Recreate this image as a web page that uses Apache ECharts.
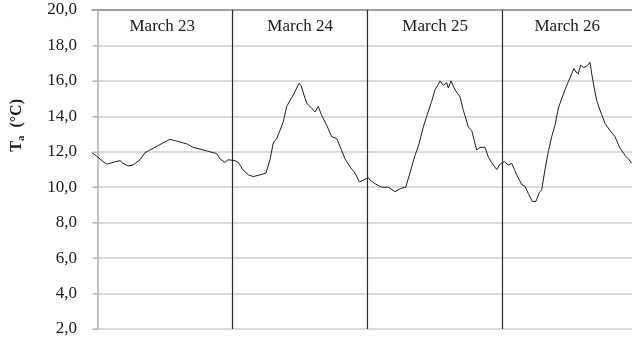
<!DOCTYPE html>
<html>
<head>
<meta charset="utf-8">
<script src="https://cdn.jsdelivr.net/npm/echarts@6/dist/echarts.min.js"></script>
<style>
  html, body { margin: 0; padding: 0; background: #fff; }
  #chart { width: 632px; height: 339px; }
</style>
</head>
<body>
<div id="chart"></div>
<script>
// Air temperature, hours counted from midnight of March 23
const hours = [
  -1.0, -0.16, 0.96, 1.61, 2.73, 3.98, 4.51, 5.4, 6.29, 7.53, 8.42, 9.31, 10.5, 11.62,
  12.87, 14.06, 15.84, 16.96, 18.2, 19.39, 21.17, 21.76, 22.64, 23.18, 23.53, 24.42,
  25.01, 25.9, 26.79, 27.68, 28.87, 29.93, 30.64, 31.23, 31.84, 32.42, 33.01, 33.61,
  34.2, 34.79, 35.39, 35.8, 36.16, 36.69, 37.17, 38.06, 38.64, 39.23, 39.84, 40.72,
  41.61, 42.5, 43.09, 43.98, 44.87, 45.76, 46.52, 47.23, 48.12,
  48.42, 49.31, 50.5, 51.68, 52.87, 54.06, 54.77, 55.53, 56.42, 57.01, 57.9, 58.5,
  59.39, 59.98, 60.46, 60.87, 61.45, 62.06, 62.34, 62.82, 63.53, 64.42, 65.01, 65.9,
  66.5, 67.39, 67.98, 68.87, 69.45, 70.34, 70.95, 71.53, 72.3,
  73.01, 73.61, 74.5, 75.39, 75.98, 76.56, 77.28, 77.93, 78.52, 78.95, 79.53, 80.12,
  80.72, 81.31, 81.9, 82.5, 83.09, 83.68, 84.28, 84.69, 85.04, 85.45, 85.88, 86.34,
  87.05, 87.53, 87.84, 88.25, 88.72, 89.31, 90.2, 91.09, 91.98, 92.87, 93.76, 94.35, 94.95
];
const temps = [
  11.95, 11.75, 11.45, 11.3, 11.4, 11.5, 11.35, 11.2, 11.25, 11.55, 11.95, 12.1, 12.3, 12.5,
  12.7, 12.6, 12.45, 12.25, 12.15, 12.05, 11.9, 11.6, 11.4, 11.55, 11.55, 11.5,
  11.4, 10.95, 10.7, 10.6, 10.7, 10.8, 11.55, 12.5, 12.75, 13.2, 13.7, 14.55,
  14.9, 15.2, 15.6, 15.85, 15.75, 15.2, 14.75, 14.45, 14.25, 14.55, 14.05, 13.5,
  12.85, 12.75, 12.3, 11.6, 11.15, 10.8, 10.3, 10.4, 10.55,
  10.4, 10.2, 10.0, 10.0, 9.75, 9.95, 10.0, 10.8, 11.8, 12.3, 13.4, 14.0,
  14.85, 15.5, 15.75, 16.0, 15.75, 15.9, 15.6, 16.0, 15.5, 15.1, 14.35, 13.4,
  13.2, 12.1, 12.25, 12.25, 11.7, 11.25, 11.0, 11.3, 11.45,
  11.25, 11.35, 10.7, 10.15, 10.05, 9.65, 9.2, 9.2, 9.7, 9.85, 11.0, 12.0,
  12.85, 13.5, 14.45, 15.0, 15.5, 15.95, 16.4, 16.7, 16.5, 16.4, 16.9, 16.75,
  16.85, 17.05, 16.4, 15.65, 14.9, 14.35, 13.6, 13.2, 12.85, 12.2, 11.8, 11.6, 11.35
];
const days = ['March 23', 'March 24', 'March 25', 'March 26'];
const midnights = [24, 48, 72];
const yTicks = { min: 2, max: 20, step: 2 };
const timeRange = { min: -1, max: 95 };

const serif = 'Liberation Serif, Times New Roman, serif';
const bounds = [timeRange.min].concat(midnights, [timeRange.max]);

const chart = echarts.init(document.getElementById('chart'), null, { renderer: 'canvas' });
chart.setOption({
  animation: false,
  backgroundColor: '#ffffff',
  grid: { left: 92, right: 0, top: 10, bottom: 10 },
  xAxis: {
    type: 'value',
    position: 'top',
    min: timeRange.min,
    max: timeRange.max,
    axisLine: { show: true, lineStyle: { color: '#8c8c8c', width: 1.5 } },
    axisTick: { show: false },
    axisLabel: { show: false },
    splitLine: { show: false }
  },
  yAxis: {
    type: 'value',
    min: yTicks.min,
    max: yTicks.max,
    interval: yTicks.step,
    axisLine: { show: true, lineStyle: { color: '#b0b0b0', width: 1.5 } },
    axisTick: { show: true, inside: false, length: 4, lineStyle: { color: '#b0b0b0' } },
    axisLabel: {
      margin: 15,
      color: '#1a1a1a',
      fontFamily: serif,
      fontSize: 17,
      formatter: v => v.toFixed(1).replace('.', ',')
    },
    splitLine: { show: true, lineStyle: { color: '#cfcfcf', width: 1.5 } }
  },
  graphic: [{
    type: 'text',
    left: 9,
    top: 99,
    rotation: Math.PI / 2,
    style: {
      text: '{t|T}{s|a}{t|  (°C)}',
      rich: {
        t: { fontFamily: serif, fontSize: 16, fontWeight: 'bold', fill: '#1a1a1a' },
        s: { fontFamily: serif, fontSize: 11, fontWeight: 'bold', fill: '#1a1a1a', padding: [9, 0, 0, 0] }
      }
    }
  }],
  series: [{
    type: 'line',
    data: hours.map((h, i) => [h, temps[i]]),
    showSymbol: false,
    lineStyle: { color: '#1e1e1e', width: 1 },
    markLine: {
      silent: true,
      symbol: 'none',
      label: { show: false },
      lineStyle: { color: '#2a2a2a', type: 'solid', width: 1.2 },
      data: midnights.map(m => ({ xAxis: m }))
    },
    markArea: {
      silent: true,
      itemStyle: { color: 'rgba(0,0,0,0)' },
      label: {
        show: true,
        position: 'insideTop',
        distance: 8,
        color: '#1a1a1a',
        fontFamily: serif,
        fontSize: 17
      },
      data: days.map((d, i) => [{ name: d, xAxis: bounds[i] }, { xAxis: bounds[i + 1] }])
    }
  }]
});
</script>
</body>
</html>
